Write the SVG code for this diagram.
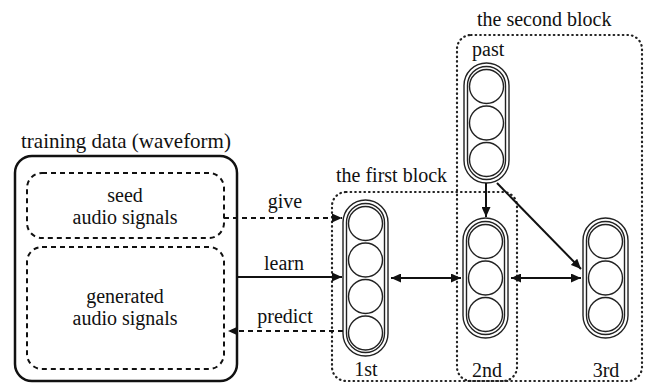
<svg xmlns="http://www.w3.org/2000/svg" width="649" height="383" viewBox="0 0 649 383">
<defs>
<style>
.c{text-anchor:middle}
.dot{fill:none;stroke:#222;stroke-width:2.2;stroke-dasharray:0.6 4;stroke-linecap:round}
.dash{fill:none;stroke:#111;stroke-width:2;stroke-dasharray:5 4}
.solid{fill:none;stroke:#111;stroke-width:2}
.cap{fill:none;stroke:#222;stroke-width:1.4}
.cir{fill:#fff;stroke:#222;stroke-width:1.4}
</style>
<marker id="ah" viewBox="0 0 10 9" refX="10" refY="4.5" markerWidth="10" markerHeight="9" markerUnits="userSpaceOnUse" orient="auto-start-reverse"><path d="M0,0L10,4.5L0,9z" fill="#111"/></marker>
</defs>
<rect width="649" height="383" fill="#fff"/>
<g font-family="Liberation Serif, Times New Roman, serif" font-size="20" fill="#111">
<g id="training-data">
<rect x="15" y="156" width="222" height="225" rx="17" fill="none" stroke="#111" stroke-width="2.5"/>
<text class="c" x="126" y="148" font-size="21">training data (waveform)</text>
</g>
<g id="seed">
<rect class="dash" x="27" y="173" width="197" height="65" rx="15"/>
<text class="c" x="125" y="202">seed</text>
<text class="c" x="125" y="224">audio signals</text>
</g>
<g id="generated">
<rect class="dash" x="27" y="247" width="197" height="122" rx="15"/>
<text class="c" x="125" y="303">generated</text>
<text class="c" x="125" y="325">audio signals</text>
</g>

<g id="first-block">
<rect class="dot" x="332" y="192" width="185" height="189" rx="14"/>
<text x="336" y="182">the first block</text>
</g>
<g id="second-block">
<rect class="dot" x="457" y="35" width="185" height="346" rx="14"/>
<text x="477" y="26">the second block</text>
</g>

<g id="col-1st">
<rect class="cap" x="343" y="200" width="45" height="156" rx="22.5"/>
<rect class="cap" x="346.5" y="203.5" width="38" height="149" rx="19"/>
<circle class="cir" cx="365.5" cy="223.5" r="17"/>
<circle class="cir" cx="365.5" cy="260" r="17"/>
<circle class="cir" cx="365.5" cy="296.5" r="17"/>
<circle class="cir" cx="365.5" cy="333" r="17"/>
<text class="c" x="366" y="376">1st</text>
</g>
<g id="col-past">
<rect class="cap" x="464" y="63" width="45" height="120" rx="22.5"/>
<rect class="cap" x="467.5" y="66.5" width="38" height="113" rx="19"/>
<circle class="cir" cx="486.5" cy="86.5" r="17"/>
<circle class="cir" cx="486.5" cy="123" r="17"/>
<circle class="cir" cx="486.5" cy="159.5" r="17"/>
<text x="472" y="56">past</text>
</g>
<g id="col-2nd">
<rect class="cap" x="463" y="218" width="45" height="120" rx="22.5"/>
<rect class="cap" x="466.5" y="221.5" width="38" height="113" rx="19"/>
<circle class="cir" cx="485.5" cy="241.5" r="17"/>
<circle class="cir" cx="485.5" cy="278" r="17"/>
<circle class="cir" cx="485.5" cy="314.5" r="17"/>
<text class="c" x="487" y="377">2nd</text>
</g>
<g id="col-3rd">
<rect class="cap" x="583" y="218" width="45" height="120" rx="22.5"/>
<rect class="cap" x="586.5" y="221.5" width="38" height="113" rx="19"/>
<circle class="cir" cx="605.5" cy="241.5" r="17"/>
<circle class="cir" cx="605.5" cy="278" r="17"/>
<circle class="cir" cx="605.5" cy="314.5" r="17"/>
<text class="c" x="606" y="377">3rd</text>
</g>

<g id="connectors">
<path class="dash" d="M224,218 L342,218" marker-end="url(#ah)"/>
<text class="c" x="285" y="208">give</text>
<path class="solid" d="M237,277 L342,277" marker-end="url(#ah)"/>
<text class="c" x="284" y="270">learn</text>
<path class="dash" d="M343,331 L228,331" marker-end="url(#ah)"/>
<text class="c" x="285" y="323">predict</text>
<path class="solid" d="M486,183 L486,217" marker-end="url(#ah)"/>
<path class="solid" d="M497,183 L581,269" marker-end="url(#ah)"/>
<path class="solid" d="M391,278 L461,278" marker-start="url(#ah)" marker-end="url(#ah)"/>
<path class="solid" d="M511,278 L581,278" marker-start="url(#ah)" marker-end="url(#ah)"/>
</g>
</g>
</svg>
